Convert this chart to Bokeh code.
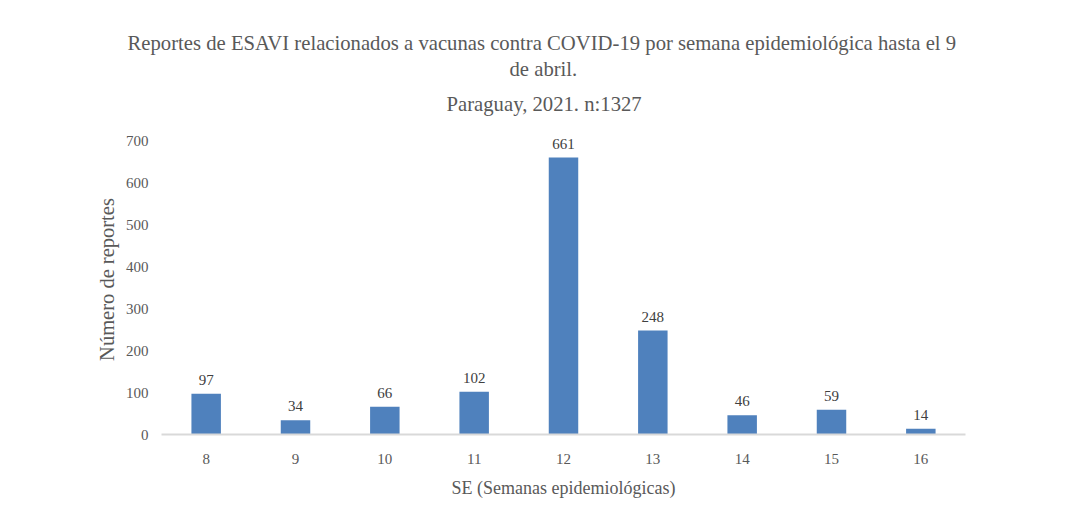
from bokeh.plotting import figure
from bokeh.models import ColumnDataSource, LabelSet, Title, FixedTicker, Range1d
from bokeh.embed import file_html
from bokeh.resources import INLINE

weeks = ["8", "9", "10", "11", "12", "13", "14", "15", "16"]
reports = [97, 34, 66, 102, 661, 248, 46, 59, 14]
y_ticks = [0, 100, 200, 300, 400, 500, 600, 700]

FONT = "Liberation Serif"
GRAY = "#595959"

src = ColumnDataSource(dict(x=weeks, y=reports, lab=[str(v) for v in reports]))

p = figure(width=1054, height=502, x_range=weeks, y_range=Range1d(0, 740),
           output_backend="svg", toolbar_location=None,
           min_border_left=161, min_border_right=89, min_border_top=124, min_border_bottom=68)

p.vbar(x="x", top="y", width=0.33, source=src, color="#4F81BD", line_color=None)

labels = LabelSet(x="x", y="y", text="lab", source=src, text_align="center",
                  text_baseline="bottom", y_offset=9, text_font=FONT,
                  text_font_size="15px", text_color="#404040")
p.add_layout(labels)

p.xgrid.visible = False
p.ygrid.visible = False
p.outline_line_color = None

p.yaxis.ticker = FixedTicker(ticks=y_ticks)
p.yaxis.axis_line_color = None
p.yaxis.major_tick_line_color = None
p.yaxis.minor_tick_line_color = None
p.yaxis.major_tick_out = 0
p.yaxis.major_tick_in = 0
p.yaxis.minor_tick_out = 0
p.yaxis.major_label_standoff = 13
p.yaxis.major_label_text_font = FONT
p.yaxis.major_label_text_font_size = "15px"
p.yaxis.major_label_text_color = GRAY
p.yaxis.axis_label = "Número de reportes"
p.yaxis.axis_label_text_font = FONT
p.yaxis.axis_label_text_font_size = "20.5px"
p.yaxis.axis_label_text_font_style = "normal"
p.yaxis.axis_label_text_color = GRAY
p.yaxis.axis_label_standoff = 5

p.xaxis.axis_line_color = "#D9D9D9"
p.xaxis.axis_line_width = 2
p.xaxis.major_tick_line_color = None
p.xaxis.minor_tick_line_color = None
p.xaxis.major_tick_out = 0
p.xaxis.major_tick_in = 0
p.xaxis.major_label_text_font = FONT
p.xaxis.major_label_text_font_size = "15px"
p.xaxis.major_label_text_color = GRAY
p.xaxis.major_label_standoff = 19
p.xaxis.axis_label = "SE (Semanas epidemiológicas)"
p.xaxis.axis_label_text_font = FONT
p.xaxis.axis_label_text_font_size = "18px"
p.xaxis.axis_label_text_font_style = "normal"
p.xaxis.axis_label_text_color = GRAY
p.xaxis.axis_label_standoff = 11

titles = ["Reportes de ESAVI relacionados a vacunas contra COVID-19 por semana epidemiológica hasta el 9",
          "de abril.",
          "Paraguay, 2021. n:1327"]
standoffs = [2, 2, 20]
offsets = [-34, 348, 285]
for t, s, o in reversed(list(zip(titles, standoffs, offsets))):
    p.add_layout(Title(text=t, align="left", offset=o, text_font=FONT, text_font_size="20.7px",
                       text_font_style="normal", text_color=GRAY, standoff=s), "above")

open("out.html", "w").write(file_html(p, INLINE))
